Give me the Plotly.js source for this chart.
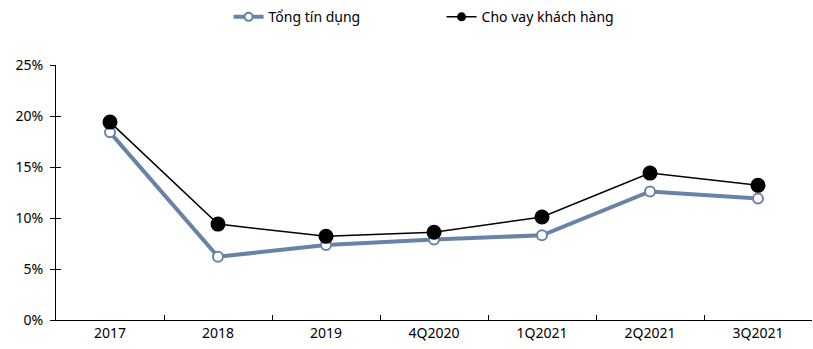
<!DOCTYPE html>
<html>
<head>
<meta charset="utf-8">
<script src="https://cdn.plot.ly/plotly-3.0.1.min.js"></script>
<style>html,body{margin:0;padding:0;background:#fff;}#chart{width:813px;height:349px;}</style>
</head>
<body>
<div id="chart"></div>
<script>
const categories = ["2017", "2018", "2019", "4Q2020", "1Q2021", "2Q2021", "3Q2021"];
const tongTinDung = [0.184, 0.062, 0.0735, 0.079, 0.083, 0.126, 0.119];
const choVayKhachHang = [0.194, 0.094, 0.082, 0.086, 0.101, 0.144, 0.132];
const yTicks = [0, 0.05, 0.10, 0.15, 0.20, 0.25];
const yTickLabels = ["0%", "5%", "10%", "15%", "20%", "25%"];
const seriesNames = ["Tổng tín dụng", "Cho vay khách hàng"];

const axisFont = {family: "Noto Sans, sans-serif", size: 14, color: "#000"};
const legendFont = {family: "Noto Sans, sans-serif", size: 14, color: "#000"};
const blue = "#6783A8";

const traces = [
  {
    x: categories, y: tongTinDung, name: seriesNames[0], showlegend: false,
    type: "scatter", mode: "lines+markers",
    line: {color: blue, width: 4},
    marker: {symbol: "circle", size: 10, color: "#ffffff", line: {color: blue, width: 2}}
  },
  {
    x: categories, y: choVayKhachHang, name: seriesNames[1], showlegend: false,
    type: "scatter", mode: "lines+markers",
    line: {color: "#000000", width: 1.5},
    marker: {symbol: "circle", size: 15, color: "#000000"}
  },
  {
    x: [null], y: [null], name: seriesNames[0], showlegend: true,
    type: "scatter", mode: "lines+markers",
    line: {color: blue, width: 4},
    marker: {symbol: "circle", size: 8, color: "#ffffff", line: {color: blue, width: 2}}
  },
  {
    x: [null], y: [null], name: seriesNames[1], showlegend: true,
    type: "scatter", mode: "lines+markers",
    line: {color: "#000000", width: 1.5},
    marker: {symbol: "circle", size: 9, color: "#000000"}
  },
  {
    x: categories, y: choVayKhachHang, yaxis: "y2", showlegend: false,
    type: "scatter", mode: "lines", hoverinfo: "skip",
    line: {color: "rgba(0,0,0,0)", width: 0}
  }
];

const layout = {
  width: 813, height: 349,
  margin: {l: 56, r: 1, t: 65, b: 29},
  paper_bgcolor: "#fff", plot_bgcolor: "#fff",
  font: axisFont,
  showlegend: true,
  legend: {orientation: "h", x: 0.51, xanchor: "center", y: 1.25, yanchor: "top",
           font: legendFont, traceorder: "normal", entrywidth: 168, entrywidthmode: "pixels"},
  xaxis: {
    type: "category", showgrid: false, zeroline: false,
    showline: true, linecolor: "#000", linewidth: 1,
    ticks: "inside", tickson: "boundaries", ticklen: 5, tickcolor: "#000",
    tickfont: axisFont, range: [-0.5, 6.5]
  },
  yaxis: {
    range: [0, 0.25], tickvals: yTicks, ticktext: yTickLabels,
    showgrid: false, zeroline: false,
    showline: true, linecolor: "#000", linewidth: 1,
    ticks: "outside", ticklen: 5, tickcolor: "#000",
    tickfont: axisFont, ticklabelstandoff: 4
  },
  yaxis2: {
    overlaying: "y", side: "left", range: [0, 0.25], tickvals: yTicks,
    showticklabels: false, showgrid: false, zeroline: false, showline: false,
    ticks: "inside", ticklen: 5, tickcolor: "#000"
  }
};

Plotly.newPlot("chart", traces, layout, {displayModeBar: false, staticPlot: true});
</script>
</body>
</html>
